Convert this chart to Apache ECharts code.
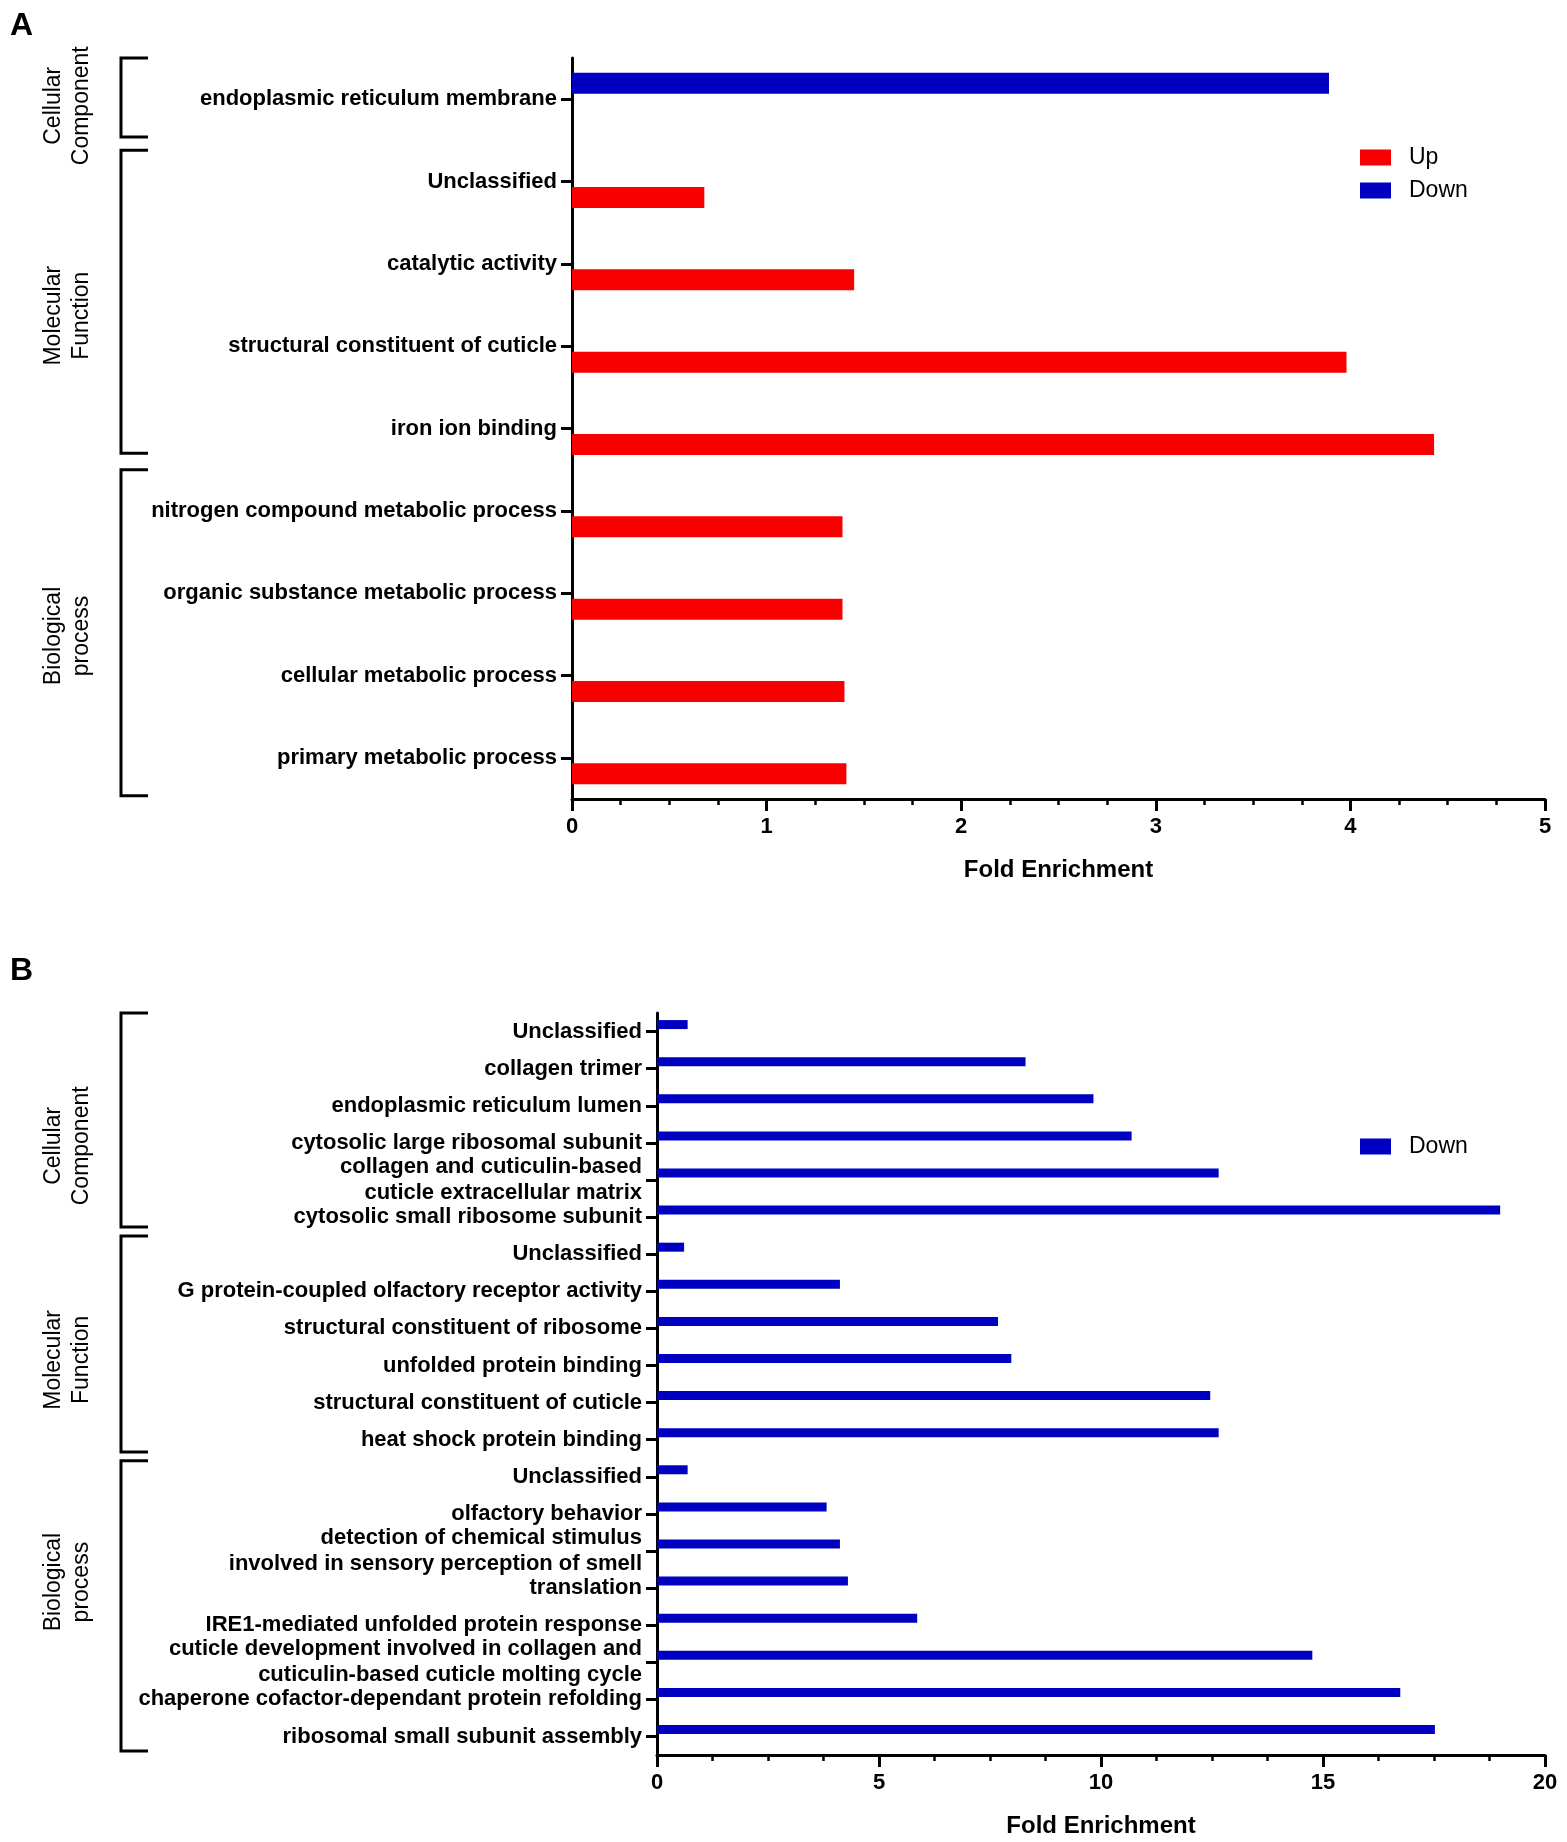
<!DOCTYPE html>
<html><head><meta charset="utf-8">
<script src="https://cdn.jsdelivr.net/npm/echarts@6/dist/echarts.min.js"></script>
<style>html,body{margin:0;padding:0;background:#fff}#c{width:1567px;height:1842px}</style>
</head><body><div id="c"></div>
<script>
// ---------- DATA ----------
const catsA = ['endoplasmic reticulum membrane','Unclassified','catalytic activity','structural constituent of cuticle','iron ion binding','nitrogen compound metabolic process','organic substance metabolic process','cellular metabolic process','primary metabolic process'];
const upA   = [null, 0.68, 1.45, 3.98, 4.43, 1.39, 1.39, 1.40, 1.41];
const downA = [3.89, null, null, null, null, null, null, null, null];
const groupNames = ['Cellular\nComponent','Molecular\nFunction','Biological\nprocess'];
const ticksA = [0,1,2,3,4,5];

const catsB = ['Unclassified','collagen trimer','endoplasmic reticulum lumen','cytosolic large ribosomal subunit','collagen and cuticulin-based\ncuticle extracellular matrix','cytosolic small ribosome subunit',
  'Unclassified','G protein-coupled olfactory receptor activity','structural constituent of ribosome','unfolded protein binding','structural constituent of cuticle','heat shock protein binding',
  'Unclassified','olfactory behavior','detection of chemical stimulus\ninvolved in sensory perception of smell','translation','IRE1-mediated unfolded protein response','cuticle development involved in collagen and\ncuticulin-based cuticle molting cycle','chaperone cofactor-dependant protein refolding','ribosomal small subunit assembly'];
const downB = [0.69, 8.30, 9.83, 10.69, 12.65, 18.99,
  0.61, 4.12, 7.68, 7.98, 12.46, 12.65,
  0.69, 3.82, 4.12, 4.30, 5.86, 14.76, 16.74, 17.52];
const ticksB = [0,5,10,15,20];

// ---------- LAYOUT (fractional category positions for brackets / group labels) ----------
const bracketA = [[-0.5,0.46],[0.62,4.30],[4.5,8.46]];
const labelPosA = [0.08, 2.63, 6.52];
const bracketB = [[-0.5,5.27],[5.51,11.33],[11.57,19.39]];
const labelPosB = [3.08, 8.85, 14.84];

const RED = '#F80000', BLUE = '#0000C0';
const FONT = '"Liberation Sans", Arial, sans-serif';

const chart = echarts.init(document.getElementById('c'), null, {renderer:'canvas'});

function xAxisCfg(gi, ticks, name){
  return {
    type:'value', gridIndex:gi, min:ticks[0], max:ticks[ticks.length-1], interval:ticks[1]-ticks[0],
    name:name, nameLocation:'middle', nameGap:59,
    nameTextStyle:{fontFamily:FONT, fontWeight:'bold', fontSize:24, color:'#000'},
    axisLine:{show:true, onZero:false, lineStyle:{color:'#000', width:3}},
    axisTick:{show:true, inside:false, length:12, lineStyle:{color:'#000', width:3}},
    minorTick:{show:true, splitNumber:4, length:6, lineStyle:{color:'#000', width:2.5}},
    splitLine:{show:false}, minorSplitLine:{show:false},
    axisLabel:{margin:17, fontFamily:FONT, fontWeight:'bold', fontSize:22, color:'#000'}
  };
}
function yAxisCfg(gi, cats){
  return {
    type:'category', gridIndex:gi, data:cats, inverse:true,
    axisLine:{show:true, onZero:false, lineStyle:{color:'#000', width:3}},
    axisTick:{show:true, alignWithLabel:true, length:11, lineStyle:{color:'#000', width:3}},
    splitLine:{show:false},
    axisLabel:{margin:15, interval:0, fontFamily:FONT, fontWeight:'bold', fontSize:22, lineHeight:26, color:'#000'}
  };
}

const option = {
  animation:false,
  backgroundColor:'#fff',
  grid:[
    {left:572, top:58, width:973, height:741, containLabel:false},
    {left:657, top:1013, width:888, height:742, containLabel:false}
  ],
  xAxis:[xAxisCfg(0, ticksA, 'Fold Enrichment'), xAxisCfg(1, ticksB, 'Fold Enrichment')],
  yAxis:[yAxisCfg(0, catsA), yAxisCfg(1, catsB)],
  legend:[
    {data:['Up','Down'], orient:'vertical', left:1355, top:141, itemWidth:31, itemHeight:16, itemGap:10,
     icon:'rect', textStyle:{fontFamily:FONT, fontSize:23, color:'#000', padding:[0,0,0,13]}},
    {data:['Down'], orient:'vertical', left:1355, top:1130, itemWidth:31, itemHeight:16,
     icon:'rect', textStyle:{fontFamily:FONT, fontSize:23, color:'#000', padding:[0,0,0,13]}}
  ],
  series:[
    {name:'Down', type:'bar', xAxisIndex:0, yAxisIndex:0, data:downA, barWidth:21, barGap:'52%', itemStyle:{color:BLUE}},
    {name:'Up', type:'bar', xAxisIndex:0, yAxisIndex:0, data:upA, barWidth:21, barGap:'52%', itemStyle:{color:RED}},
    {name:'Down', type:'bar', xAxisIndex:1, yAxisIndex:1, data:downB, barWidth:9, barGap:'55%', itemStyle:{color:BLUE}},
    {name:'_pad', type:'bar', xAxisIndex:1, yAxisIndex:1, data:downB.map(()=>null), barWidth:9, barGap:'55%', itemStyle:{color:RED}}
  ]
};
chart.setOption(option);

// ---------- annotations: brackets + group labels derived from the category axes ----------
function catPix(axisIndex, f){
  const p0 = chart.convertToPixel({yAxisIndex:axisIndex}, 0);
  const p1 = chart.convertToPixel({yAxisIndex:axisIndex}, 1);
  return p0 + f*(p1-p0);
}
const graphics = [
  {type:'text', left:10, top:10, style:{text:'A', font:'bold 32px '+FONT, fill:'#000'}},
  {type:'text', left:10, top:955, style:{text:'B', font:'bold 32px '+FONT, fill:'#000'}}
];
function addGroups(axisIndex, brackets, labelPos){
  brackets.forEach((b,i)=>{
    const y1 = catPix(axisIndex, b[0]), y2 = catPix(axisIndex, b[1]);
    graphics.push({type:'polyline', shape:{points:[[148,y1],[121,y1],[121,y2],[148,y2]]},
      style:{stroke:'#000', lineWidth:3, fill:null}});
    graphics.push({type:'text', x:68, y:catPix(axisIndex, labelPos[i]), rotation:Math.PI/2,
      style:{text:groupNames[i], font:'23px '+FONT, fill:'#000', align:'center', verticalAlign:'middle', lineHeight:28}});
  });
}
addGroups(0, bracketA, labelPosA);
addGroups(1, bracketB, labelPosB);
chart.setOption({graphic:graphics});
</script>
</body></html>
